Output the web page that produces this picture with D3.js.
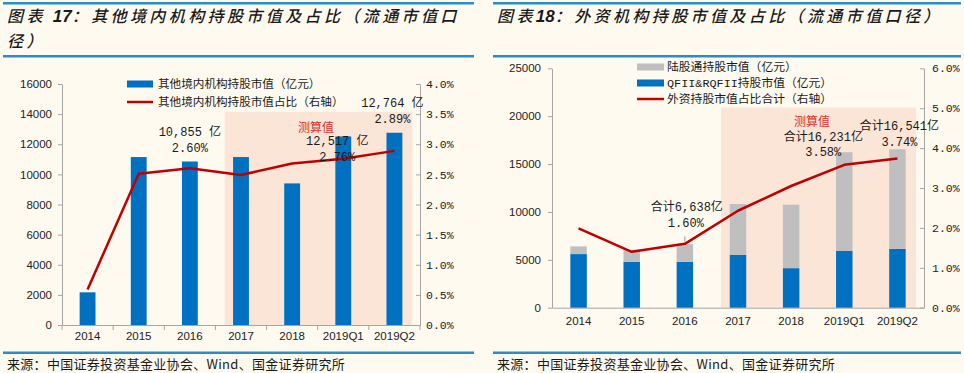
<!DOCTYPE html>
<html>
<head>
<meta charset="utf-8">
<script src="https://cdn.jsdelivr.net/npm/d3@7"></script>
<style>
  body { margin: 0; background: #fffaf0; }
  svg { display: block; }
</style>
</head>
<body>
<svg id="chart" width="964" height="373"></svg>
<script>
// categories shared by both charts
const categories = ['2014', '2015', '2016', '2017', '2018', '2019Q1', '2019Q2'];

// chart 17: other domestic institutions
const domesticValue = [2170, 11150, 10855, 11150, 9400, 12517, 12764];
const domesticShare = [0.0059, 0.0251, 0.0260, 0.0249, 0.0268, 0.0276, 0.0289];

// chart 18: foreign institutions
const qfiiValue = [5600, 4800, 4800, 5530, 4130, 5950, 6150];
const connectValue = [800, 1250, 1838, 5300, 6630, 10281, 10391];
const foreignTotal = [6400, 6050, 6638, 10830, 10760, 16231, 16541];
const foreignShare = [0.0199, 0.0140, 0.0160, 0.0243, 0.0305, 0.0358, 0.0374];

const leftTicks = [0, 2000, 4000, 6000, 8000, 10000, 12000, 14000, 16000];
const leftPct = [0, 0.005, 0.01, 0.015, 0.02, 0.025, 0.03, 0.035, 0.04];
const rightTicks = [0, 5000, 10000, 15000, 20000, 25000];
const rightPct = [0, 0.01, 0.02, 0.03, 0.04, 0.05, 0.06];

const BLUE = '#0070c0';
const GRAY = '#bfbfbf';
const RED = '#c00000';
const SHADE = '#fbe5d6';
const AXIS = '#a6a6a6';
const RULE = '#2b8dc5';
const CJK = '"Noto Sans CJK SC", sans-serif';
const MONO = '"Liberation Mono", "Noto Sans CJK SC", monospace';
const SANS = '"Liberation Sans", Arial, sans-serif';

const svg = d3.select('#chart');
svg.append('rect').attr('width', 964).attr('height', 373).attr('fill', '#fffaf0');

const fmtNum = d3.format(',');
const fmtPct = d3.format('.2%');

// panel frame: rules, title, source
function frame(x0, x1, titleLines) {
  [2, 55, 351.5].forEach(y => {
    svg.append('rect')
      .attr('x', x0).attr('y', y)
      .attr('width', x1 - x0).attr('height', 2.5)
      .attr('fill', RULE);
  });
  titleLines.forEach((parts, i) => {
    const t = svg.append('text')
      .attr('x', x0 + 4)
      .attr('y', 22 + i * 25)
      .attr('font-family', CJK)
      .attr('font-size', 16)
      .attr('font-weight', 500)
      .attr('font-style', 'italic')
      .attr('letter-spacing', 3.4)
      .attr('fill', '#1a1a1a');
    parts.forEach(([s, bold]) => {
      t.append('tspan')
        .attr('font-family', bold ? SANS : CJK)
        .attr('font-weight', bold ? 'bold' : 500)
        .attr('font-size', bold ? 17 : 16)
        .attr('letter-spacing', bold ? 0 : 3.4)
        .text(s);
    });
  });
  svg.append('text')
    .attr('x', x0 + 4)
    .attr('y', 369)
    .attr('font-family', CJK)
    .attr('font-size', 13)
    .attr('letter-spacing', 0.3)
    .attr('fill', '#1a1a1a')
    .text('来源：中国证券投资基金业协会、Wind、国金证券研究所');
}

// shared axes
function axes(g, x, y, yR, opts) {
  const [x0, x1] = x.range();
  const base = y(0);

  g.append('g')
    .attr('transform', `translate(${x0},0)`)
    .call(d3.axisLeft(y).tickValues(opts.ticks).tickSizeInner(4).tickSizeOuter(0)
      .tickPadding(opts.leftPad).tickFormat(d3.format('d')))
    .call(a => a.selectAll('line, path').attr('stroke', AXIS))
    .call(a => a.selectAll('text').attr('font-family', SANS).attr('font-size', 11.5).attr('fill', '#222'));

  g.append('g')
    .attr('transform', `translate(${x1},0)`)
    .call(d3.axisRight(yR).tickValues(opts.pct).tickSizeInner(-4).tickSizeOuter(0)
      .tickPadding(opts.rightPad).tickFormat(d3.format('.1%')))
    .call(a => a.selectAll('line, path').attr('stroke', AXIS))
    .call(a => a.selectAll('text').attr('font-family', MONO).attr('font-size', 11.5).attr('fill', '#222'));

  const xa = g.append('g')
    .attr('transform', `translate(0,${base})`)
    .call(d3.axisBottom(x).tickSize(0).tickPadding(opts.xPad))
    .call(a => a.select('.domain').attr('stroke', AXIS))
    .call(a => a.selectAll('text').attr('font-family', SANS).attr('font-size', 11.5).attr('fill', '#222'));

  if (opts.boundaryTicks) {
    xa.selectAll('.bound')
      .data(d3.range(categories.length + 1))
      .enter().append('line')
        .attr('x1', i => x0 + i * x.step())
        .attr('x2', i => x0 + i * x.step())
        .attr('y1', 0).attr('y2', 5)
        .attr('stroke', AXIS);
  }
}

function shade(g, x, y, from, to, top) {
  const x0 = x(categories[from]) + x.bandwidth() / 2 - 0.32 * x.step();
  const x1 = x(categories[to]) + x.bandwidth() / 2 + 0.35 * x.step();
  g.append('rect')
    .attr('x', x0).attr('y', y(top))
    .attr('width', x1 - x0).attr('height', y(0) - y(top))
    .attr('fill', SHADE);
}

function label(g, cx, cy, str, color) {
  g.append('text')
    .attr('x', cx).attr('y', cy)
    .attr('text-anchor', 'middle')
    .attr('font-family', MONO)
    .attr('font-size', 12)
    .attr('fill', color || '#1a1a1a')
    .text(str);
}

function shareLine(g, x, yR, values) {
  const line = d3.line()
    .x((d, i) => x(categories[i]) + x.bandwidth() / 2)
    .y(d => yR(d));
  g.append('path')
    .datum(values)
    .attr('fill', 'none')
    .attr('stroke', RED)
    .attr('stroke-width', 2.5)
    .attr('stroke-linejoin', 'round')
    .attr('d', line);
}

// ---------- Chart 17 ----------
frame(3, 474, [
  [['图表 '], ['17', true], ['：其他境内机构持股市值及占比（流通市值口']],
  [['径）']],
]);
{
  const g = svg.append('g');
  const x = d3.scaleBand().domain(categories).range([62, 420])
    .paddingInner(0.69).paddingOuter(0.345);
  const y = d3.scaleLinear().domain([0, 16000]).range([325, 84]);
  const yR = d3.scaleLinear().domain([0, 0.04]).range([325, 84]);
  const cx = i => x(categories[i]) + x.bandwidth() / 2;

  shade(g, x, y, 3, 6, 14150);
  axes(g, x, y, yR, { ticks: leftTicks, pct: leftPct, leftPad: 6, rightPad: 6, xPad: 7, boundaryTicks: true });

  g.selectAll('.bar')
    .data(domesticValue)
    .enter().append('rect')
      .attr('class', 'bar')
      .attr('x', (d, i) => x(categories[i]))
      .attr('y', d => y(d))
      .attr('width', x.bandwidth())
      .attr('height', d => y(0) - y(d))
      .attr('fill', BLUE);

  shareLine(g, x, yR, domesticShare);

  // annotations
  [[2, 0, -25, -9.5], [5, -6, 8.5, 24.5], [6, -2, -25.5, -9.5]].forEach(([i, dx, d1, d2]) => {
    const top = y(domesticValue[i]);
    label(g, cx(i) + dx, top + d1, `${fmtNum(domesticValue[i])} 亿`);
    label(g, cx(i) + dx, top + d2, fmtPct(domesticShare[i]));
  });
  label(g, 316, 132, '测算值', '#e0302c');

  // legend
  const lg = g.append('g').attr('transform', 'translate(127,84)');
  lg.append('rect').attr('x', 0).attr('y', -3.5).attr('width', 26).attr('height', 7).attr('fill', BLUE);
  lg.append('line').attr('x1', 0).attr('x2', 26).attr('y1', 18).attr('y2', 18)
    .attr('stroke', RED).attr('stroke-width', 2.5);
  [['其他境内机构持股市值（亿元）', 4], ['其他境内机构持股市值占比（右轴）', 22]].forEach(([t, yy]) => {
    lg.append('text').attr('x', 31).attr('y', yy)
      .attr('font-family', CJK).attr('font-size', 11.6).attr('fill', '#1a1a1a').text(t);
  });
}

// ---------- Chart 18 ----------
frame(493, 961, [
  [['图表'], ['18', true], ['：外资机构持股市值及占比（流通市值口径）']],
]);
{
  const g = svg.append('g');
  const x = d3.scaleBand().domain(categories).range([552, 924])
    .paddingInner(0.69).paddingOuter(0.345);
  const y = d3.scaleLinear().domain([0, 25000]).range([307.7, 68.3]);
  const yR = d3.scaleLinear().domain([0, 0.06]).range([307.7, 68.3]);
  const cx = i => x(categories[i]) + x.bandwidth() / 2;

  shade(g, x, y, 3, 6, 20900);
  axes(g, x, y, yR, { ticks: rightTicks, pct: rightPct, leftPad: 7, rightPad: 8, xPad: 9, boundaryTicks: false });

  const table = categories.map((c, i) => ({ cat: c, qfii: qfiiValue[i], connect: connectValue[i] }));
  const stack = d3.stack().keys(['qfii', 'connect'])(table);
  const colors = { qfii: BLUE, connect: GRAY };

  g.selectAll('.layer')
    .data(stack)
    .enter().append('g')
      .attr('fill', d => colors[d.key])
    .selectAll('rect')
    .data(d => d)
    .enter().append('rect')
      .attr('x', d => x(d.data.cat))
      .attr('y', d => y(d[1]))
      .attr('width', x.bandwidth())
      .attr('height', d => y(d[0]) - y(d[1]));

  shareLine(g, x, yR, foreignShare);

  // annotation for 2016, tied to the line point
  const p = yR(foreignShare[2]);
  label(g, cx(2) + 2, p - 33, `合计${fmtNum(foreignTotal[2])}亿`);
  label(g, cx(2) + 1, p - 16.5, fmtPct(foreignShare[2]));
  g.append('line').attr('x1', cx(2)).attr('x2', cx(2))
    .attr('y1', p - 7.5).attr('y2', p - 2).attr('stroke', '#999');

  [[5, -21, -11, 4], [6, 2, -19, -3]].forEach(([i, dx, d1, d2]) => {
    const top = y(foreignTotal[i]);
    label(g, cx(i) + dx, top + d1, `合计${fmtNum(foreignTotal[i])}亿`);
    label(g, cx(i) + dx, top + d2, fmtPct(foreignShare[i]));
  });
  label(g, 812, 126, '测算值', '#e0302c');

  // legend
  const lg = g.append('g').attr('transform', 'translate(637,67)');
  lg.append('rect').attr('x', 0).attr('y', -3.5).attr('width', 27).attr('height', 7).attr('fill', GRAY);
  lg.append('rect').attr('x', 0).attr('y', 12.5).attr('width', 27).attr('height', 7).attr('fill', BLUE);
  lg.append('line').attr('x1', 0).attr('x2', 27).attr('y1', 32).attr('y2', 32)
    .attr('stroke', RED).attr('stroke-width', 2.5);
  [['陆股通持股市值（亿元）', 4], ['QFII&RQFII持股市值（亿元）', 20], ['外资持股市值占比合计（右轴）', 36]].forEach(([t, yy]) => {
    lg.append('text').attr('x', 30).attr('y', yy)
      .attr('font-family', MONO).attr('font-size', 11.8).attr('fill', '#1a1a1a').text(t);
  });
}
</script>
</body>
</html>
